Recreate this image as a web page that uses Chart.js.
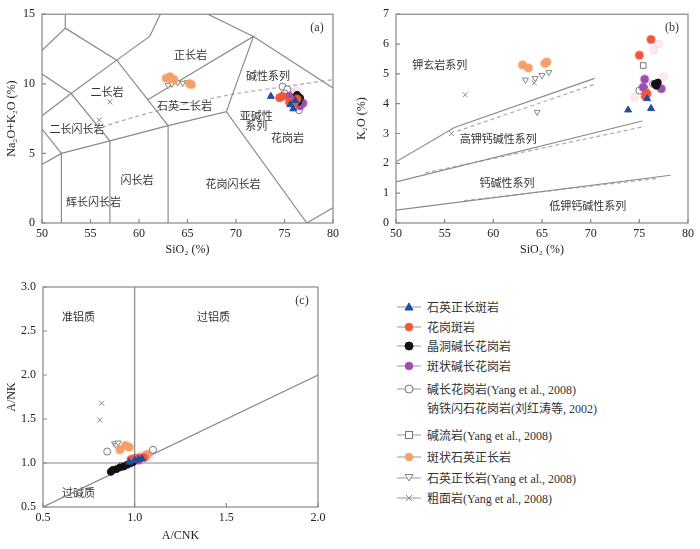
<!DOCTYPE html>
<html>
<head>
<meta charset="utf-8">
<script src="https://cdn.jsdelivr.net/npm/chart.js@4.4.1/dist/chart.umd.min.js"></script>
<style>
  body { margin: 0; background: #fff; width: 700px; height: 549px; position: relative; overflow: hidden; }
  .box { position: absolute; }
  #legend { position: absolute; left: 396px; top: 0; font-family: "Liberation Serif", "Noto Sans CJK SC", serif; font-size: 12px; color: #333; }
  .item { position: absolute; left: 0; height: 14px; display: flex; align-items: center; white-space: nowrap; }
  .item svg { margin-right: 5px; }
</style>
</head>
<body>
<div class="box" style="left:0;top:0;width:345px;height:265px"><canvas id="tas"></canvas></div>
<div class="box" style="left:350px;top:0;width:350px;height:265px"><canvas id="k2o"></canvas></div>
<div class="box" style="left:0;top:265px;width:345px;height:284px"><canvas id="acnk"></canvas></div>
<div id="legend"></div>
<script>
// series, same order in every panel
const seriesNames = ['石英正长斑岩', '花岗斑岩', '晶洞碱长花岗岩', '斑状碱长花岗岩',
  '碱长花岗岩(Yang et al., 2008)', '钠铁闪石花岗岩(刘红涛等, 2002)', '碱流岩(Yang et al., 2008)',
  '斑状石英正长岩', '石英正长岩(Yang et al., 2008)', '粗面岩(Yang et al., 2008)'];

// (a) SiO2 vs Na2O+K2O
const tasPoints = [
  [[73.6, 9.1], [75.6, 8.5], [75.9, 8.2], [76.1, 8.8]],
  [[74.5, 9.0], [74.8, 9.1], [75.5, 8.7], [76.0, 8.6], [76.3, 8.9]],
  [[76.3, 9.2], [76.6, 9.0], [76.4, 8.7]],
  [[75.5, 9.1], [76.0, 8.9], [76.9, 8.6], [76.6, 8.4]],
  [[74.8, 9.8], [75.3, 9.6], [75.0, 9.3], [76.5, 8.1]],
  [[75.8, 9.4], [76.2, 9.5]],
  [[75.2, 9.4]],
  [[62.8, 10.4], [63.2, 10.5], [63.6, 10.3], [65.2, 10.0], [65.4, 9.95]],
  [[63.0, 9.9], [63.4, 10.0], [64.0, 10.1], [64.5, 10.05], [65.0, 10.1]],
  [[57.0, 8.7], [55.9, 7.4]]
];
// (b) SiO2 vs K2O
const k2oPoints = [
  [[73.85, 3.79], [75.8, 4.17], [76.2, 3.84]],
  [[76.2, 6.15], [75.0, 5.62], [75.8, 4.33], [75.6, 4.25]],
  [[76.9, 4.71], [76.75, 4.6], [76.6, 4.66]],
  [[75.55, 4.82], [77.26, 4.5], [75.4, 4.55]],
  [[75.0, 4.44], [75.55, 4.5], [76.4, 4.66]],
  [[76.5, 5.8], [77.5, 4.9], [74.5, 4.2], [77.0, 6.0]],
  [[75.4, 5.28]],
  [[63.0, 5.3], [63.6, 5.2], [65.3, 5.35], [65.5, 5.4]],
  [[63.3, 4.8], [64.3, 4.85], [65.0, 4.95], [65.7, 5.05], [64.5, 3.72]],
  [[57.1, 4.3], [55.7, 3.0], [64.2, 4.7]]
];
// (c) A/CNK vs A/NK
const acnkPoints = [
  [[1.00, 1.03], [1.02, 1.04], [1.04, 1.05], [0.97, 1.01]],
  [[0.98, 1.04], [1.01, 1.05], [1.03, 1.06], [1.05, 1.06]],
  [[0.87, 0.90], [0.88, 0.92], [0.90, 0.93], [0.92, 0.95], [0.94, 0.96], [0.96, 0.98], [0.98, 1.0], [0.99, 1.01]],
  [[0.99, 1.02], [1.02, 1.03], [1.0, 1.05]],
  [[0.85, 1.13], [1.10, 1.15], [0.98, 1.03]],
  [[1.04, 1.09], [1.08, 1.07]],
  [[0.93, 0.97]],
  [[0.92, 1.15], [0.95, 1.2], [0.97, 1.18], [1.06, 1.08], [1.07, 1.1]],
  [[0.89, 1.22], [0.90, 1.20], [0.91, 1.23]],
  [[0.82, 1.68], [0.81, 1.49]]
];

// field boundaries
const tasLines = [
  [[52.4, 15], [52.4, 14.0], [50, 12.4]],
  [[52.4, 14.0], [57.7, 11.7], [63, 7]],
  [[50, 10.7], [53.0, 9.3], [57, 5.9]],
  [[50, 7.7], [53.0, 9.3], [57.7, 11.7], [61.1, 13.4], [62.2, 15]],
  [[50, 6.75], [52, 5]],
  [[50, 4.2], [52, 5], [57, 5.9], [63, 7], [69, 8], [77.3, 0]],
  [[52, 5], [52, 0]],
  [[57, 5.9], [57, 0]],
  [[63, 7], [63, 0]],
  [[69, 8], [71.8, 13.4], [60.9, 8.85]],
  [[67.1, 15], [71.8, 13.4], [80, 9.7]],
  [[77.3, 0], [80, 1.1]]
];
const tasDashed = [[55.5, 6.7], [58, 7.3], [61, 7.9], [65, 8.6], [70, 9.3], [75, 9.8], [80, 10.3]];
const k2oLines = [
  [[50, 2.05], [56, 3.2], [70.4, 4.85]],
  [[50, 1.38], [75.3, 3.42]],
  [[50, 0.43], [78.2, 1.6]]
];
const k2oDashed = [
  [[56.3, 3.08], [70.4, 4.65]],
  [[53, 1.68], [75.3, 3.22]],
  [[57, 0.75], [77, 1.5]]
];
const acnkLines = [
  [[1, 0.5], [1, 3]],
  [[0.5, 1], [2, 1]],
  [[0.5, 0.5], [2, 2]]
];

// field names
const tasLabels = [
  ['正长岩', 65.3, 12.1], ['二长岩', 56.7, 9.4], ['二长闪长岩', 53.6, 6.8], ['石英二长岩', 64.7, 8.4],
  ['碱性系列', 73.3, 10.6], ['亚碱性', 72.1, 7.7], ['系列', 72.1, 7.0], ['花岗岩', 75.3, 6.1],
  ['闪长岩', 59.8, 3.1], ['花岗闪长岩', 69.7, 2.8], ['辉长闪长岩', 55.3, 1.5]
];
const k2oLabels = [
  ['钾玄岩系列', 54.5, 5.31], ['高钾钙碱性系列', 60.5, 2.81], ['钙碱性系列', 61.4, 1.34], ['低钾钙碱性系列', 69.7, 0.58]
];
const acnkLabels = [['准铝质', 0.694, 2.66], ['过铝质', 1.43, 2.66], ['过碱质', 0.694, 0.66]];

const styles = [
  { pointStyle: 'triangle', backgroundColor: '#1d4fa0', borderColor: '#1d4fa0', pointRadius: 4 },
  { pointStyle: 'circle', backgroundColor: '#f2573a', borderColor: 'rgba(242,87,58,0.35)', pointRadius: 4, borderWidth: 2 },
  { pointStyle: 'circle', backgroundColor: '#111', borderColor: '#111', pointRadius: 3.5 },
  { pointStyle: 'circle', backgroundColor: '#a04cb4', borderColor: 'rgba(160,76,180,0.35)', pointRadius: 4, borderWidth: 2 },
  { pointStyle: 'circle', backgroundColor: '#fff', borderColor: '#777', pointRadius: 3.5 },
  { pointStyle: 'circle', backgroundColor: 'rgba(240,150,180,0.2)', borderColor: 'rgba(240,150,180,0.2)', pointRadius: 4 },
  { pointStyle: 'rect', backgroundColor: '#fff', borderColor: '#777', pointRadius: 4 },
  { pointStyle: 'circle', backgroundColor: '#f4a06a', borderColor: 'rgba(244,160,106,0.4)', pointRadius: 4, borderWidth: 2 },
  { pointStyle: 'triangle', pointRotation: 180, backgroundColor: '#fff', borderColor: '#888', pointRadius: 3.5 },
  { pointStyle: 'crossRot', backgroundColor: '#888', borderColor: '#888', pointRadius: 3.5 }
];

const serif = 'Liberation Serif';
const cjk = '"Noto Sans CJK SC"';

const decor = {
  id: 'decor',
  beforeDatasetsDraw(chart, args, opts) {
    const { ctx, scales: { x, y } } = chart;
    ctx.save();
    ctx.font = '11px ' + cjk;
    ctx.fillStyle = '#333';
    ctx.textAlign = 'center';
    ctx.textBaseline = 'middle';
    (opts.labels || []).forEach(([t, vx, vy]) => ctx.fillText(t, x.getPixelForValue(vx), y.getPixelForValue(vy)));
    ctx.font = '12px ' + serif;
    ctx.fillText(opts.tag, chart.chartArea.right - 16, chart.chartArea.top + 14);
    ctx.restore();
  },
  afterDraw(chart) {
    const { ctx, chartArea: a, scales: { x, y } } = chart;
    ctx.save();
    ctx.strokeStyle = '#888';
    ctx.lineWidth = 1.2;
    ctx.strokeRect(a.left, a.top, a.right - a.left, a.bottom - a.top);
    ctx.beginPath();
    x.ticks.forEach(t => {
      const px = x.getPixelForValue(t.value);
      ctx.moveTo(px, a.bottom); ctx.lineTo(px, a.bottom - 4);
    });
    y.ticks.forEach(t => {
      const py = y.getPixelForValue(t.value);
      ctx.moveTo(a.left, py); ctx.lineTo(a.left + 4, py);
    });
    ctx.stroke();
    ctx.restore();
  }
};

function lineSet(pts, dashed) {
  return {
    type: 'line', data: pts.map(([x, y]) => ({ x, y })), showLine: true, pointRadius: 0,
    borderColor: dashed ? '#aaa' : '#8a8a8a', borderWidth: 1.2, borderDash: dashed ? [4, 3] : [],
    fill: false, order: 10, tension: 0
  };
}

function makeChart(id, cfg) {
  const datasets = cfg.points.map((pts, i) => Object.assign({
    label: seriesNames[i], data: pts.map(([x, y]) => ({ x, y })), borderWidth: 1, order: 1
  }, styles[i]));
  cfg.lines.forEach(l => datasets.push(lineSet(l, false)));
  cfg.dashed.forEach(l => datasets.push(lineSet(l, true)));
  const axis = (c, title) => ({
    type: 'linear', min: c.min, max: c.max,
    ticks: { stepSize: c.step, padding: 4, color: '#222', font: { family: serif, size: 12 },
      callback: v => c.dec ? v.toFixed(1) : v },
    grid: { display: false, drawTicks: false },
    border: { display: false },
    title: { display: true, text: title, color: '#222', font: { family: serif, size: 12 } }
  });
  const xs = axis(cfg.x, cfg.xTitle);
  xs.title.padding = { top: 0, bottom: cfg.xTitlePad };
  xs.afterFit = s => { s.height = 42; };
  const ys = axis(cfg.y, cfg.yTitle);
  ys.ticks.padding = 7;
  ys.title.padding = { top: 5, bottom: 0 };
  ys.afterFit = s => { s.width = cfg.left; };
  return new Chart(document.getElementById(id), {
    type: 'scatter',
    data: { datasets },
    options: {
      responsive: true, maintainAspectRatio: false, animation: false,
      layout: { padding: { top: cfg.top, right: cfg.right, bottom: 0, left: 0 } },
      plugins: { legend: { display: false }, tooltip: { enabled: false },
        decor: { labels: cfg.labels, tag: cfg.tag } },
      scales: { x: xs, y: ys }
    },
    plugins: [decor]
  });
}

makeChart('tas', {
  points: tasPoints, lines: tasLines, dashed: [tasDashed], labels: tasLabels, tag: '(a)',
  x: { min: 50, max: 80, step: 5 }, y: { min: 0, max: 15, step: 5 },
  xTitle: 'SiO₂ (%)', yTitle: 'Na₂O+K₂O (%)', left: 42, top: 7, right: 12, xTitlePad: 8
});
makeChart('k2o', {
  points: k2oPoints, lines: k2oLines, dashed: k2oDashed, labels: k2oLabels, tag: '(b)',
  x: { min: 50, max: 80, step: 5 }, y: { min: 0, max: 7, step: 1 },
  xTitle: 'SiO₂ (%)', yTitle: 'K₂O (%)', left: 46, top: 8, right: 12, xTitlePad: 8
});
makeChart('acnk', {
  points: acnkPoints, lines: acnkLines, dashed: [], labels: acnkLabels, tag: '(c)',
  x: { min: 0.5, max: 2.0, step: 0.5, dec: true }, y: { min: 0.5, max: 3.0, step: 0.5, dec: true },
  xTitle: 'A/CNK', yTitle: 'A/NK', left: 43, top: 22, right: 27, xTitlePad: 6
});

// legend
const legendTops = [300, 320, 339, 359, 382, 401, 428, 450, 471, 491];
function markerSvg(s) {
  const c = 13, r = 4;
  const fill = s.backgroundColor, stroke = s.borderColor;
  const faint = fill.startsWith('rgba(240,150');
  let m = '';
  if (s.pointStyle === 'circle') m = `<circle cx="${c}" cy="7" r="${r}" fill="${fill}" stroke="${stroke}" stroke-width="1"/>`;
  else if (s.pointStyle === 'rect') m = `<rect x="${c - 3.5}" y="3.5" width="7" height="7" fill="${fill}" stroke="${stroke}"/>`;
  else if (s.pointStyle === 'triangle' && s.pointRotation) m = `<polygon points="${c - 4},3.5 ${c + 4},3.5 ${c},10" fill="${fill}" stroke="${stroke}"/>`;
  else if (s.pointStyle === 'triangle') m = `<polygon points="${c - 4},10 ${c + 4},10 ${c},3" fill="${fill}" stroke="${stroke}"/>`;
  else m = `<path d="M${c - 3} 4 L${c + 3} 10 M${c + 3} 4 L${c - 3} 10" stroke="${stroke}"/>`;
  const line = `<line x1="1" y1="7" x2="25" y2="7" stroke="#999" stroke-width="1"/>`;
  return `<svg width="26" height="14">${faint ? '' : line + m}</svg>`;
}
document.getElementById('legend').innerHTML = seriesNames.map((n, i) =>
  `<div class="item" style="top:${legendTops[i]}px">${markerSvg(styles[i])}<span>${n}</span></div>`).join('');
</script>
</body>
</html>
